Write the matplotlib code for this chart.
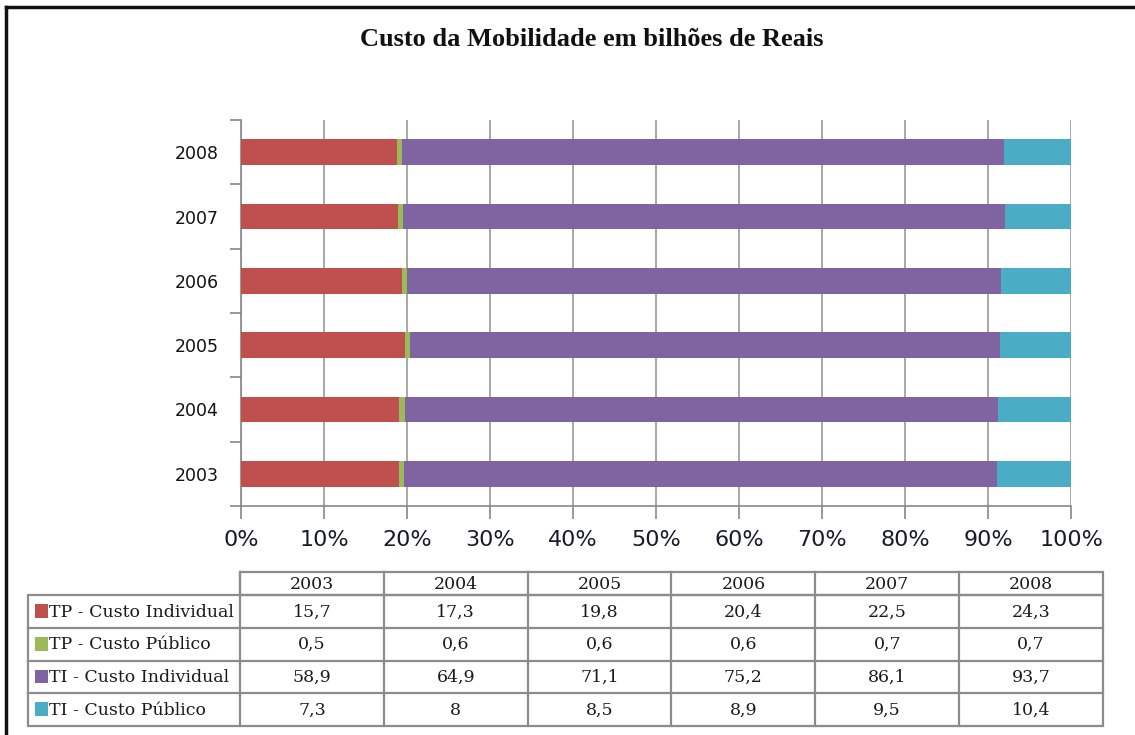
import matplotlib
matplotlib.use("Agg")
import matplotlib.pyplot as plt
from matplotlib.patches import Rectangle
from matplotlib.lines import Line2D
import numpy as np

years = ["2003", "2004", "2005", "2006", "2007", "2008"]
series = ["TP - Custo Individual", "TP - Custo Público", "TI - Custo Individual", "TI - Custo Público"]
tp_ind = [15.7, 17.3, 19.8, 20.4, 22.5, 24.3]
tp_pub = [0.5, 0.6, 0.6, 0.6, 0.7, 0.7]
ti_ind = [58.9, 64.9, 71.1, 75.2, 86.1, 93.7]
ti_pub = [7.3, 8, 8.5, 8.9, 9.5, 10.4]
colors = ["#C0504D", "#9BBB59", "#8064A2", "#4BACC6"]
xtick_labels = ["0%", "10%", "20%", "30%", "40%", "50%", "60%", "70%", "80%", "90%", "100%"]

W, H = 1135, 735
fig = plt.figure(figsize=(W / 100, H / 100), dpi=100)

def fx(px):
    return px / W

def fy(py):
    return 1 - py / H

# bar chart axes
ax = fig.add_axes([fx(241), fy(506), fx(1071) - fx(241), fy(120) - fy(506)])
data = np.array([tp_ind, tp_pub, ti_ind, ti_pub], dtype=float)
totals = data.sum(axis=0)
pct = data / totals * 100
y = np.arange(len(years))
left = np.zeros(len(years))
for i in range(len(series)):
    ax.barh(y, pct[i], left=left, height=0.4, color=colors[i], zorder=3, linewidth=0)
    left += pct[i]
ax.set_xlim(0, 100)
ax.set_ylim(-0.5, len(years) - 0.5)
ax.set_xticks(np.arange(0, 101, 10))
ax.set_xticklabels(xtick_labels, fontsize=16, family="DejaVu Sans", color="#1a1a2a")
ax.set_yticks(y)
ax.set_yticklabels(years, fontsize=12.5, family="DejaVu Sans", color="#111111")
ax.set_yticks(np.arange(-0.5, len(years), 1), minor=True)
ax.tick_params(axis="y", which="major", length=0, pad=16)
ax.tick_params(axis="y", which="minor", length=8, width=1.2, color="#888888", direction="out")
ax.tick_params(axis="x", which="major", length=9, width=1.2, color="#888888", direction="out", pad=8)
ax.grid(axis="x", color="#999999", linewidth=1.2, zorder=0)
for s in ["top", "right"]:
    ax.spines[s].set_visible(False)
for s in ["left", "bottom"]:
    ax.spines[s].set_color("#888888")
    ax.spines[s].set_linewidth(1.2)

fig.text(fx(592), fy(39), "Custo da Mobilidade em bilhões de Reais", ha="center", va="center",
         fontsize=19, fontweight="bold", family="Liberation Serif", color="#111111")

# table axes
tx0, tx1 = 28, 1103
ty0, ty1 = 572, 726
colw = (1103 - 240) / len(years)
label_w = (240 - tx0) / colw
tax = fig.add_axes([fx(tx0), fy(ty1), fx(tx1) - fx(tx0), fy(ty0) - fy(ty1)])
header_h = 23 / 32.7
nrows = len(series)
tax.set_xlim(-label_w, len(years))
tax.set_ylim(nrows + header_h, 0)
tax.axis("off")
lc = "#8c8c8c"
lw = 1.6
fs = 12.5
# header box
tax.add_patch(Rectangle((0, 0), len(years), header_h, fill=False, edgecolor=lc, linewidth=lw, clip_on=False))
for j, yr in enumerate(years):
    if j > 0:
        tax.add_line(Line2D([j, j], [0, nrows + header_h], color=lc, linewidth=lw, clip_on=False))
    tax.text(j + 0.5, header_h / 2 + 0.02, yr, ha="center", va="center", fontsize=fs,
             family="DejaVu Serif", color="#1a1a1a")
# body box
tax.add_patch(Rectangle((-label_w, header_h), label_w + len(years), nrows, fill=False,
                        edgecolor=lc, linewidth=lw, clip_on=False))
tax.add_line(Line2D([0, 0], [0, nrows + header_h], color=lc, linewidth=lw, clip_on=False))
for i, name in enumerate(series):
    yc = header_h + i + 0.5
    if i > 0:
        tax.add_line(Line2D([-label_w, len(years)], [header_h + i] * 2, color=lc, linewidth=lw, clip_on=False))
    sq = 0.09
    tax.add_patch(Rectangle((-label_w + 0.05, yc - 0.22), sq, 0.42, facecolor=colors[i],
                            edgecolor="none", clip_on=False))
    tax.text(-label_w + 0.05 + sq + 0.005, yc + 0.02, name, ha="left", va="center", fontsize=fs,
             family="DejaVu Serif", color="#1a1a1a")
    for j in range(len(years)):
        v = data[i, j]
        s = (f"{v:g}").replace(".", ",")
        tax.text(j + 0.5, yc + 0.02, s, ha="center", va="center", fontsize=fs,
                 family="DejaVu Serif", color="#1a1a1a")

# partial outer border (top and left)
fig.add_artist(Line2D([fx(6), fx(6)], [fy(7), 0], color="#111111", linewidth=2.5))
fig.add_artist(Line2D([fx(6), 1], [fy(7), fy(7)], color="#111111", linewidth=2.5))

fig.savefig("out.png", dpi=100, facecolor="white")
